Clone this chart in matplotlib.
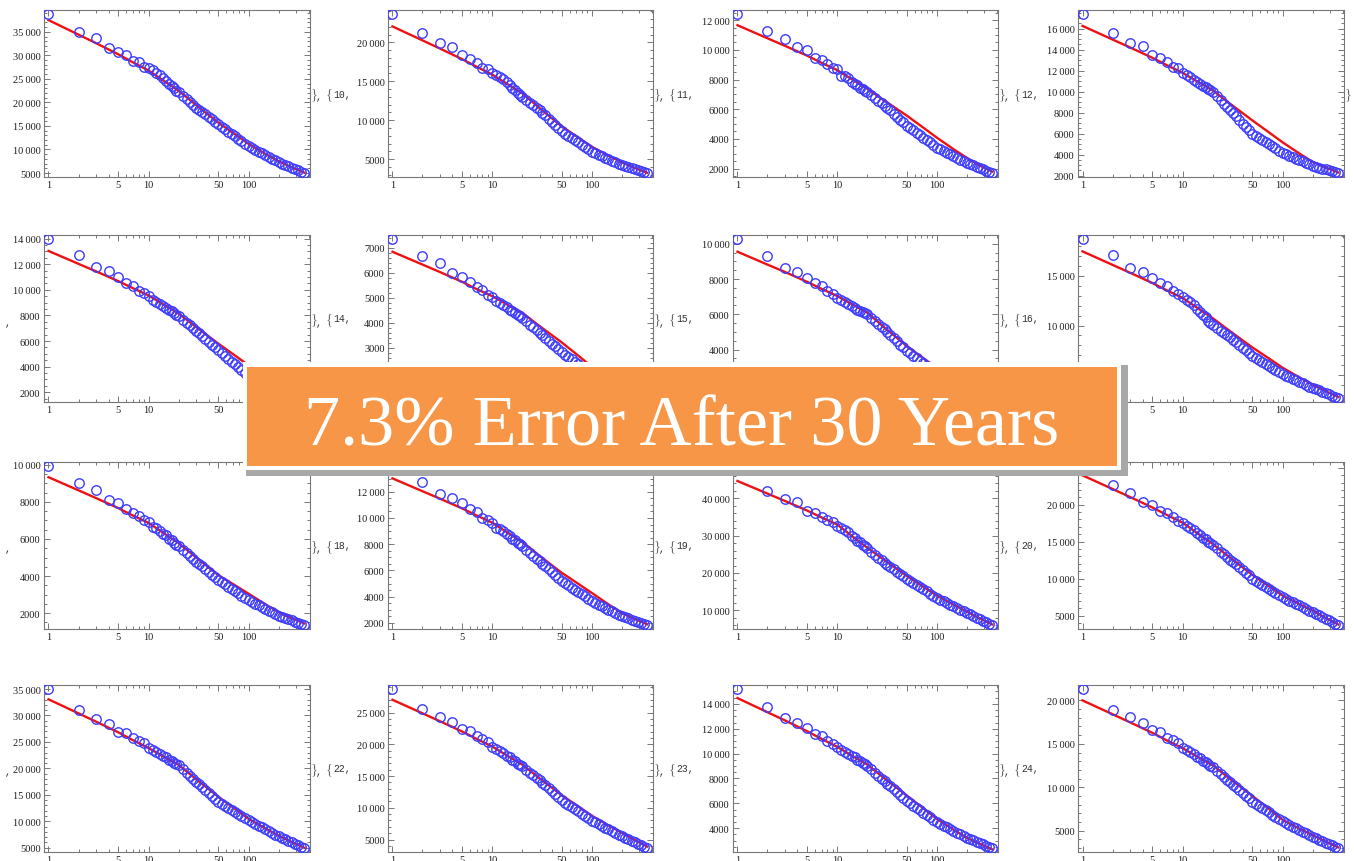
import matplotlib
matplotlib.use("Agg")
import matplotlib.pyplot as plt
from matplotlib.patches import Rectangle
from matplotlib.ticker import FixedLocator, NullFormatter, FuncFormatter, MultipleLocator

# ---------------- data ----------------
months = [1, 2, 3, 4, 5, 6, 7, 8, 9, 10, 11, 12, 13, 14, 15, 16, 17, 18, 19, 20,
          22, 24, 26, 28, 30,
          32, 34, 37, 40, 43, 46, 50,
          54, 58, 63, 68, 73, 79, 85, 92, 100,
          108, 117, 126, 136, 147, 159, 172, 186, 200,
          216, 233, 251, 270, 291, 314, 338, 360]
fit_months = [1, 2, 3, 5, 7, 10, 15, 20, 30, 50, 75, 100, 150, 200, 270, 360]

panel_ids = [9, 10, 11, 12, 13, 14, 15, 16, 17, 18, 19, 20, 21, 22, 23, 24]

obs_9 = [38900, 35000, 33700, 31600, 30700, 30000, 28850, 28600, 27500, 27300, 26900, 26300, 25800, 25100, 24600, 23900, 23500, 23000, 22500, 22150,
         21370, 20660, 20070, 19450, 18900,
         18450, 18030, 17440, 16900, 16400, 15930, 15350,
         14830, 14350, 13800, 13290, 12810, 12280, 11790, 11260, 10700,
         10320, 9930, 9570, 9190, 8810, 8430, 8040, 7660, 7300,
         7000, 6700, 6410, 6130, 5830, 5540, 5250, 5000]
obs_10 = [23700, 21170, 19870, 19430, 18350, 17900, 17400, 16740, 16600, 16000, 15800, 15560, 15300, 14850, 14500, 14100, 13900, 13500, 13300, 13040,
          12620, 12240, 11930, 11600, 11300,
          10960, 10630, 10180, 9760, 9380, 9020, 8570,
          8280, 8010, 7700, 7410, 7150, 6850, 6570, 6270, 5960,
          5770, 5570, 5380, 5190, 4990, 4800, 4600, 4400, 4220,
          4090, 3960, 3830, 3710, 3580, 3450, 3330, 3220]
obs_11 = [12450, 11270, 10750, 10200, 10000, 9430, 9320, 9050, 8750, 8680, 8250, 8230, 8070, 7840, 7730, 7600, 7450, 7380, 7250, 7160,
          6940, 6740, 6580, 6410, 6250,
          6080, 5920, 5690, 5480, 5290, 5110, 4890,
          4730, 4570, 4400, 4230, 4080, 3910, 3760, 3590, 3410,
          3300, 3180, 3070, 2960, 2840, 2730, 2610, 2500, 2390,
          2300, 2210, 2120, 2040, 1950, 1860, 1770, 1700]
obs_12 = [17440, 15580, 14620, 14300, 13500, 13190, 12800, 12330, 12230, 11790, 11600, 11400, 11100, 10900, 10700, 10550, 10400, 10250, 10120, 9970,
          9550, 9160, 8840, 8510, 8210,
          7930, 7660, 7290, 6950, 6630, 6340, 5970,
          5770, 5580, 5360, 5160, 4980, 4770, 4580, 4370, 4150,
          4020, 3880, 3750, 3610, 3480, 3340, 3200, 3070, 2940,
          2850, 2760, 2670, 2580, 2490, 2400, 2320, 2240]
obs_13 = [14000, 12690, 11740, 11440, 10970, 10540, 10330, 9900, 9740, 9510, 9180, 9050, 8900, 8700, 8600, 8400, 8330, 8150, 8050, 7950,
          7670, 7420, 7210, 6990, 6790,
          6600, 6420, 6160, 5930, 5710, 5510, 5260,
          5040, 4840, 4610, 4390, 4190, 3970, 3760, 3540, 3300,
          3190, 3070, 2970, 2860, 2740, 2630, 2520, 2410, 2300,
          2200, 2110, 2010, 1920, 1820, 1730, 1630, 1550]
obs_14 = [7370, 6670, 6390, 6000, 5840, 5630, 5420, 5330, 5130, 5030, 4870, 4800, 4700, 4620, 4530, 4470, 4380, 4330, 4270, 4210,
          4060, 3930, 3820, 3700, 3600,
          3500, 3410, 3280, 3170, 3060, 2960, 2830,
          2730, 2640, 2540, 2440, 2350, 2250, 2160, 2060, 1950,
          1880, 1810, 1750, 1680, 1620, 1550, 1480, 1410, 1350,
          1300, 1260, 1220, 1170, 1130, 1080, 1040, 1000]
obs_15 = [10300, 9300, 8640, 8420, 8080, 7750, 7600, 7320, 7130, 6940, 6800, 6700, 6580, 6450, 6380, 6270, 6200, 6120, 6060, 6000,
          5800, 5610, 5460, 5300, 5150,
          5000, 4850, 4650, 4460, 4280, 4120, 3920,
          3780, 3650, 3500, 3360, 3230, 3080, 2950, 2800, 2650,
          2550, 2450, 2350, 2250, 2150, 2050, 1950, 1850, 1750,
          1690, 1620, 1560, 1500, 1430, 1370, 1300, 1250]
obs_16 = [18780, 17070, 15850, 15440, 14760, 14250, 14010, 13470, 13230, 12890, 12550, 12380, 12100, 11650, 11400, 11050, 10850, 10500, 10300, 10070,
          9770, 9490, 9260, 9020, 8810,
          8570, 8350, 8040, 7760, 7490, 7250, 6940,
          6730, 6540, 6320, 6110, 5920, 5710, 5510, 5290, 5070,
          4920, 4760, 4620, 4470, 4310, 4160, 4010, 3850, 3710,
          3580, 3450, 3320, 3190, 3060, 2930, 2800, 2690]
obs_17 = [9960, 9000, 8650, 8110, 7960, 7600, 7380, 7240, 7000, 6910, 6650, 6600, 6450, 6250, 6200, 6000, 5950, 5780, 5700, 5600,
          5400, 5220, 5080, 4920, 4780,
          4650, 4540, 4370, 4220, 4080, 3940, 3780,
          3660, 3550, 3420, 3300, 3190, 3060, 2950, 2820, 2690,
          2600, 2510, 2420, 2330, 2230, 2140, 2050, 1960, 1870,
          1800, 1740, 1670, 1610, 1540, 1480, 1420, 1360]
obs_18 = [14000, 12770, 11820, 11510, 11110, 10660, 10460, 10000, 9850, 9650, 9270, 9150, 9000, 8750, 8650, 8400, 8300, 8100, 8000, 7870,
          7590, 7340, 7130, 6910, 6710,
          6520, 6340, 6090, 5850, 5640, 5440, 5190,
          5020, 4860, 4680, 4510, 4360, 4180, 4020, 3840, 3660,
          3530, 3400, 3280, 3150, 3020, 2890, 2760, 2630, 2510,
          2420, 2340, 2250, 2170, 2080, 2000, 1910, 1840]
obs_19 = [48800, 41900, 39700, 38900, 36500, 36100, 34900, 34100, 33700, 32700, 32000, 31500, 30900, 29900, 29500, 28600, 28300, 27500, 27100, 26600,
          25670, 24820, 24120, 23380, 22720,
          22190, 21690, 20990, 20340, 19750, 19190, 18500,
          17920, 17370, 16750, 16170, 15630, 15040, 14480, 13880, 13250,
          12810, 12360, 11940, 11500, 11050, 10610, 10160, 9720, 9300,
          8870, 8460, 8040, 7640, 7220, 6810, 6400, 6050]
obs_20 = [25300, 22600, 21550, 20320, 20000, 19180, 18810, 18360, 17800, 17580, 17100, 16900, 16600, 16150, 15950, 15550, 15400, 15000, 14850, 14600,
          14110, 13660, 13290, 12910, 12560,
          12240, 11930, 11510, 11120, 10760, 10420, 10000,
          9720, 9460, 9160, 8890, 8630, 8340, 8080, 7790, 7490,
          7270, 7030, 6810, 6590, 6360, 6130, 5900, 5670, 5460,
          5230, 5010, 4790, 4570, 4350, 4130, 3910, 3720]
obs_21 = [35100, 30950, 29270, 28440, 26910, 26720, 25760, 25130, 24810, 23850, 23540, 23090, 22800, 22300, 22100, 21600, 21450, 21000, 20850, 20600,
          19850, 19170, 18600, 18010, 17480,
          17000, 16540, 15910, 15330, 14790, 14280, 13660,
          13270, 12910, 12500, 12110, 11750, 11350, 10980, 10580, 10160,
          9830, 9480, 9160, 8830, 8500, 8160, 7820, 7480, 7170,
          6880, 6590, 6310, 6030, 5740, 5460, 5180, 4940]
obs_22 = [28820, 25590, 24350, 23550, 22470, 22150, 21400, 20860, 20430, 19520, 19200, 18900, 18600, 18100, 17950, 17500, 17350, 16950, 16800, 16560,
          16040, 15570, 15180, 14770, 14400,
          13990, 13610, 13080, 12590, 12130, 11710, 11180,
          10820, 10490, 10110, 9750, 9420, 9060, 8710, 8350, 7960,
          7690, 7410, 7150, 6890, 6620, 6340, 6070, 5790, 5540,
          5290, 5050, 4810, 4580, 4340, 4100, 3860, 3660]
obs_23 = [15240, 13730, 12900, 12430, 12070, 11600, 11380, 11050, 10770, 10550, 10300, 10150, 10000, 9780, 9700, 9480, 9420, 9230, 9150, 9030,
          8730, 8460, 8230, 7990, 7780,
          7580, 7390, 7120, 6880, 6650, 6440, 6180,
          5990, 5810, 5610, 5420, 5250, 5050, 4870, 4680, 4470,
          4330, 4190, 4060, 3920, 3780, 3640, 3500, 3360, 3230,
          3120, 3010, 2910, 2810, 2700, 2590, 2490, 2400]
obs_24 = [21370, 18940, 18040, 17450, 16590, 16350, 15690, 15410, 15100, 14510, 14300, 14050, 13850, 13500, 13350, 13050, 12950, 12650, 12500, 12350,
          11930, 11540, 11220, 10890, 10590,
          10310, 10040, 9670, 9330, 9010, 8720, 8350,
          8100, 7860, 7590, 7340, 7110, 6850, 6610, 6350, 6080,
          5880, 5680, 5490, 5290, 5100, 4900, 4700, 4500, 4310,
          4140, 3980, 3810, 3650, 3480, 3320, 3160, 3020]

fit_9 = [37500, 34400, 32580, 30220, 28510, 26800, 24260, 22500, 19440, 15700, 13090, 11200, 8980, 7500, 6230, 5100]
fit_10 = [22040, 20250, 19200, 17840, 16860, 15870, 14460, 13480, 11550, 9200, 7690, 6600, 5400, 4600, 3880, 3250]
fit_11 = [11660, 10780, 10270, 9610, 9120, 8640, 7900, 7390, 6570, 5570, 4710, 4090, 3270, 2730, 2210, 1800]
fit_12 = [16260, 14960, 14200, 13220, 12510, 11790, 10810, 10130, 8830, 7250, 6040, 5170, 4050, 3300, 2770, 2300]
fit_13 = [13030, 12020, 11430, 10670, 10120, 9560, 8730, 8150, 7090, 5790, 4810, 4100, 3200, 2600, 2100, 1650]
fit_14 = [6840, 6330, 6030, 5640, 5350, 5070, 4680, 4410, 3870, 3220, 2660, 2250, 1800, 1500, 1260, 1050]
fit_15 = [9550, 8820, 8400, 7840, 7440, 7040, 6490, 6100, 5240, 4200, 3470, 2950, 2320, 1900, 1580, 1300]
fit_16 = [17480, 16120, 15320, 14290, 13540, 12790, 11590, 10750, 9420, 7790, 6610, 5750, 4730, 4050, 3390, 2800]
fit_17 = [9330, 8620, 8200, 7660, 7260, 6870, 6230, 5780, 5000, 4050, 3470, 3050, 2450, 2050, 1730, 1450]
fit_18 = [13020, 12040, 11470, 10730, 10190, 9650, 8780, 8170, 7110, 5820, 4930, 4290, 3370, 2760, 2300, 1900]
fit_19 = [44650, 41270, 39290, 36730, 34860, 33000, 29340, 26800, 23380, 19210, 16160, 13950, 11400, 9700, 7840, 6200]
fit_20 = [23970, 22120, 21030, 19620, 18600, 17580, 15880, 14700, 12810, 10500, 8890, 7720, 6500, 5680, 4680, 3800]
fit_21 = [33060, 30390, 28820, 26800, 25320, 23850, 21970, 20670, 17950, 14620, 12220, 10480, 8570, 7300, 6080, 5000]
fit_22 = [27040, 24910, 23650, 22040, 20860, 19680, 18000, 16830, 14650, 11990, 10120, 8760, 7150, 6080, 4920, 3900]
fit_23 = [14470, 13330, 12670, 11800, 11180, 10550, 9710, 9120, 8000, 6630, 5540, 4750, 3840, 3230, 2740, 2300]
fit_24 = [20000, 18410, 17470, 16270, 15390, 14510, 13350, 12550, 10960, 9020, 7420, 6270, 5210, 4510, 3760, 3100]

observed = [obs_9, obs_10, obs_11, obs_12, obs_13, obs_14, obs_15, obs_16,
            obs_17, obs_18, obs_19, obs_20, obs_21, obs_22, obs_23, obs_24]
fitted = [fit_9, fit_10, fit_11, fit_12, fit_13, fit_14, fit_15, fit_16,
          fit_17, fit_18, fit_19, fit_20, fit_21, fit_22, fit_23, fit_24]
y_tick_steps = [5000, 5000, 2000, 2000, 2000, 1000, 2000, 5000,
                2000, 2000, 10000, 5000, 5000, 5000, 2000, 5000]
x_major_ticks = [1, 5, 10, 50, 100]
x_minor_ticks = [2, 3, 4, 6, 7, 8, 9, 20, 30, 40, 60, 70, 80, 90, 200, 300, 400]
banner_text = "7.3% Error After 30 Years"

# ---------------- layout ----------------
W, H = 1354, 862
fig = plt.figure(figsize=(W / 100, H / 100), dpi=100)
fig.patch.set_facecolor("white")

col_edges = [(44, 310), (388, 653), (733, 998), (1078, 1344)]
row_edges = [(11, 178), (236, 403), (463, 630), (686, 853)]

SERIF = ["Liberation Serif", "DejaVu Serif"]
MONO = ["Liberation Mono", "DejaVu Sans Mono"]
FRAME = "#777777"
BLUE = "#3c3cff"


def ylab(v, pos):
    v = int(round(v))
    if v >= 10000:
        return f"{v:,}".replace(",", "\u2009")
    return str(v)


for i in range(16):
    r, c = divmod(i, 4)
    l, rr = col_edges[c]
    t, b = row_edges[r]
    ax = fig.add_axes([l / W, 1 - b / H, (rr - l) / W, (b - t) / H])
    ax.set_xscale("log")
    ax.set_xlim(10 ** -0.045, 10 ** 2.615)
    y = observed[i]
    lo, hi = min(y), max(y)
    rng = hi - lo
    ax.set_ylim(lo - 0.025 * rng, hi + 0.022 * rng)
    ax.plot(fit_months, fitted[i], color="#ee1111", lw=1.7, zorder=2)
    ax.plot(months, y, "o", mfc="none", mec=BLUE, ms=6.8, mew=1.0, zorder=3)

    ax.xaxis.set_major_locator(FixedLocator(x_major_ticks))
    ax.xaxis.set_minor_locator(FixedLocator(x_minor_ticks))
    ax.xaxis.set_major_formatter(FuncFormatter(lambda v, p: f"{v:g}"))
    ax.xaxis.set_minor_formatter(NullFormatter())
    step = y_tick_steps[i]
    ax.yaxis.set_major_locator(MultipleLocator(step))
    sub = 4 if str(step)[0] == "2" else 5
    ax.yaxis.set_minor_locator(MultipleLocator(step / sub))
    ax.yaxis.set_major_formatter(FuncFormatter(ylab))
    ax.tick_params(which="both", direction="in", top=True, right=True,
                   color=FRAME, width=0.7, labelcolor="#1e1e1e", labelsize=7.5, pad=2.5)
    ax.tick_params(which="major", length=4)
    ax.tick_params(which="minor", length=2.2)
    for lab in ax.get_xticklabels() + ax.get_yticklabels():
        lab.set_family(SERIF)
    for sp in ax.spines.values():
        sp.set_color(FRAME)
        sp.set_linewidth(0.8)

    # text of the surrounding Mathematica list output
    yc = 1 - (t + b) / 2 / H
    if c < 3:
        num = panel_ids[i] + 1
        fig.text((rr + 4) / W, yc, "}", ha="center", va="center", fontsize=10.5,
                 family=SERIF, color="#666666")
        fig.text((rr + 9) / W, yc - 3 / H, ",", ha="center", va="center", fontsize=7,
                 family=MONO, color="#333333")
        fig.text((rr + 19) / W, yc, "{", ha="center", va="center", fontsize=10.5,
                 family=SERIF, color="#666666")
        fig.text((rr + 23) / W, yc, f"{num},", ha="left", va="center", fontsize=7,
                 family=MONO, color="#333333")
    elif r == 0:
        fig.text((rr + 4) / W, yc, "}", ha="center", va="center", fontsize=10.5,
                 family=SERIF, color="#666666")
    if c == 0 and r > 0:
        fig.text(8 / W, yc - 3 / H, ",", ha="center", va="center", fontsize=7,
                 family=MONO, color="#333333")


def frect(x0, y0, x1, y1, **kw):
    fig.patches.append(Rectangle((x0 / W, 1 - y1 / H), (x1 - x0) / W, (y1 - y0) / H,
                                 transform=fig.transFigure, figure=fig, **kw))


frect(246, 366, 1128, 477, facecolor="#a8a8a8", edgecolor="none", zorder=10)
frect(243, 363, 1121, 471, facecolor="white", edgecolor="none", zorder=11)
frect(247, 368, 1117, 467, facecolor="#F79646", edgecolor="none", zorder=12)
fig.text(682 / W, 1 - 445 / H, banner_text, ha="center", va="baseline", fontsize=52,
         color="white", family=SERIF, zorder=13)

fig.savefig("out.png", dpi=100, facecolor="white")
